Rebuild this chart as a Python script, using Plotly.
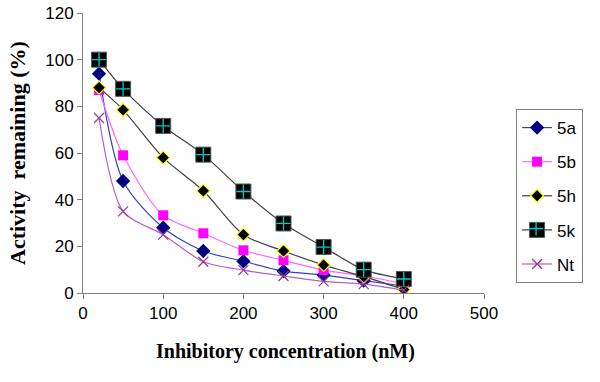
import plotly.graph_objects as go

conc = [20, 50, 100, 150, 200, 250, 300, 350, 400]
s5a = [94, 48, 28, 18, 13.6, 9.4, 7.7, 5.3, 3]
s5b = [87, 59, 33.3, 25.6, 18.3, 14, 9.8, 7.3, 4]
s5h = [88, 78.5, 58, 43.8, 25, 18, 12, 7, 1.5]
s5k = [100, 87.5, 71.6, 59.3, 43.5, 29.8, 19.7, 10, 6]
sNt = [75, 35, 25, 13.4, 9.8, 7.3, 5, 3.8, 1.2]

xticks = [0, 100, 200, 300, 400, 500]
yticks = [0, 20, 40, 60, 80, 100, 120]

fig = go.Figure()

def add(name, y, lcolor, msym, mcolor, msize, mline_color, mline_w, grp):
    fig.add_trace(go.Scatter(
        x=conc, y=y, name=name, mode="lines+markers",
        line=dict(color=lcolor, width=1.2, shape="spline", smoothing=0.8),
        marker=dict(symbol=msym, color=mcolor, size=msize,
                    line=dict(color=mline_color, width=mline_w)),
        legendgroup=grp,
    ))

add("5a", s5a, "#3344BB", "diamond", "#000080", 11, "#000080", 0, "a")
add("5b", s5b, "#FF66FF", "square", "#FF00FF", 10, "#FF00FF", 0, "b")
add("5h", s5h, "#404040", "diamond", "#000000", 10, "#FFFF00", 1.2, "c")
add("5k", s5k, "#404040", "square", "#000000", 15, "#555555", 1, "d")
add("Nt", sNt, "#B060C0", "x-thin-open", "#993399", 10, "#993399", 1.2, "e")

# cyan crosses inside 5k squares
fig.add_trace(go.Scatter(
    x=conc, y=s5k, mode="markers", name="5k", legend="legend2",
    marker=dict(symbol="cross-thin-open", size=10, color="#00CCCC",
                line=dict(color="#00CCCC", width=1.3)),
    hoverinfo="skip",
))

fig.update_layout(
    width=600, height=382,
    margin=dict(l=83, r=116, t=13, b=89, autoexpand=False),
    paper_bgcolor="white", plot_bgcolor="white",
    font=dict(family="Liberation Sans, Arial, sans-serif", size=17, color="black"),
    showlegend=True,
    legend=dict(
        x=1.08, y=0.657, xanchor="left", yanchor="top",
        bordercolor="#808080", borderwidth=1, bgcolor="white",
        traceorder="grouped", tracegroupgap=9,
        font=dict(size=17),
    ),
    legend2=dict(
        x=1.08, y=0.293, xanchor="left", yanchor="top",
        bgcolor="rgba(0,0,0,0)", borderwidth=0,
        font=dict(size=17, color="rgba(0,0,0,0)"),
    ),
    xaxis=dict(
        range=[0, 500], tickvals=xticks, ticktext=[str(v) for v in xticks],
        showgrid=False, zeroline=False, showline=True, linecolor="#808080",
        linewidth=1, ticks="outside", tickcolor="#808080", ticklen=5,
        automargin=False,
    ),
    yaxis=dict(
        range=[0, 120], tickvals=yticks, ticktext=[str(v) for v in yticks],
        showgrid=False, zeroline=False, showline=True, linecolor="#808080",
        linewidth=1, ticks="outside", tickcolor="#808080", ticklen=5,
        automargin=False,
    ),
    annotations=[
        dict(text="<b>Activity  remaining (%)</b>", xref="paper", yref="paper",
             x=0, y=0.5, xshift=-66, textangle=-90, showarrow=False,
             xanchor="center", yanchor="middle",
             font=dict(family="Liberation Serif, Times New Roman, serif", size=22)),
        dict(text="<b>Inhibitory concentration (nM)</b>", xref="paper", yref="paper",
             x=0.504, y=-0.21, showarrow=False, xanchor="center", yanchor="middle",
             font=dict(family="Liberation Serif, Times New Roman, serif", size=20)),
    ],
)

fig.write_html("out.html", config={"displayModeBar": False},
               post_script="document.body.style.margin='0';")
